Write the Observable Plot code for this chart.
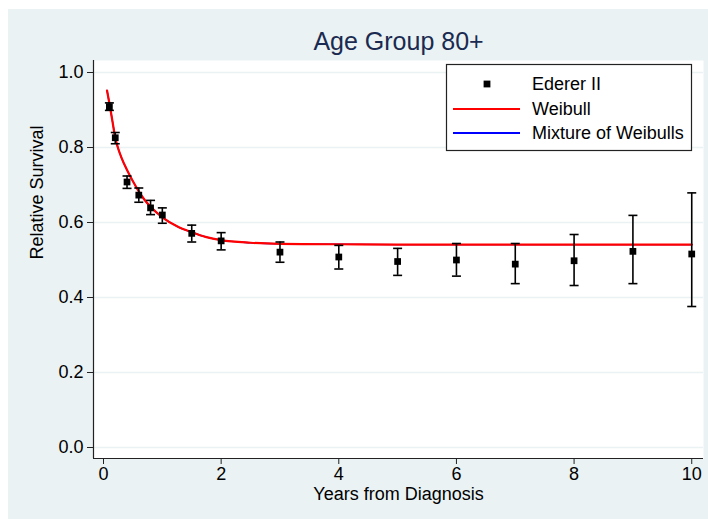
<!DOCTYPE html>
<html><head><meta charset="utf-8">
<script src="https://cdn.jsdelivr.net/npm/d3@7"></script>
<script src="https://cdn.jsdelivr.net/npm/@observablehq/plot@0.6"></script>
<style>
html,body{margin:0;padding:0;background:#fff;}
#wrap{position:relative;width:708px;height:519px;overflow:hidden;}
#panel{position:absolute;left:8px;top:9px;right:0;bottom:0;background:#EAF2F3;}
#chart{position:absolute;left:0;top:0;}
</style></head><body>
<div id="wrap"><div id="panel"></div><div id="chart"></div></div>
<script>
const titleText = "Age Group 80+";
const xLabel = "Years from Diagnosis";
const yLabel = "Relative Survival";
const legendLabels = ["Ederer II", "Weibull", "Mixture of Weibulls"];
const xTicks = [0, 2, 4, 6, 8, 10];
const yTicks = [0, 0.2, 0.4, 0.6, 0.8, 1.0];

// Ederer II estimates with 95% CI
const edererTime = [0.1, 0.2, 0.4, 0.6, 0.8, 1.0, 1.5, 2, 3, 4, 5, 6, 7, 8, 9, 10];
const edererRS   = [0.909, 0.826, 0.708, 0.673, 0.639, 0.620, 0.571, 0.551, 0.521, 0.508, 0.496, 0.500, 0.489, 0.498, 0.523, 0.516];
const edererLo   = [0.899, 0.810, 0.691, 0.654, 0.621, 0.598, 0.548, 0.527, 0.494, 0.476, 0.459, 0.457, 0.437, 0.432, 0.437, 0.376];
const edererHi   = [0.919, 0.840, 0.724, 0.692, 0.659, 0.639, 0.593, 0.573, 0.548, 0.539, 0.531, 0.544, 0.544, 0.568, 0.619, 0.679];

// Fitted curves
const weibullTime = [0.06, 0.10, 0.15, 0.20, 0.25, 0.30, 0.40, 0.50, 0.60, 0.70, 0.80, 1.00, 1.25, 1.50, 1.75, 2.00, 2.50, 3.00, 4.00, 5.00, 6.00, 8.00, 10.0];
const weibullRS   = [0.952, 0.918, 0.872, 0.826, 0.797, 0.775, 0.740, 0.710, 0.683, 0.660, 0.642, 0.614, 0.590, 0.574, 0.561, 0.553, 0.546, 0.543, 0.542, 0.541, 0.541, 0.541, 0.541];
const mixtureTime = [0.06, 0.10, 0.15, 0.20, 0.25, 0.30, 0.40, 0.50, 0.60, 0.70, 0.80, 1.00, 1.25, 1.50, 1.75, 2.00, 2.50, 3.00, 4.00, 5.00, 6.00, 8.00, 10.0];
const mixtureRS   = [0.952, 0.918, 0.872, 0.826, 0.797, 0.775, 0.740, 0.710, 0.683, 0.660, 0.642, 0.614, 0.590, 0.574, 0.561, 0.553, 0.546, 0.543, 0.542, 0.541, 0.541, 0.541, 0.541];

const ederer = edererTime.map((t, i) => ({t, rs: edererRS[i], lo: edererLo[i], hi: edererHi[i]}));
const weibull = weibullTime.map((t, i) => ({t, rs: weibullRS[i]}));
const mixture = mixtureTime.map((t, i) => ({t, rs: mixtureRS[i]}));

const FONT = '"Liberation Sans", Arial, Helvetica, sans-serif';
const BG = "#EAF2F3";
const xDomain = [-0.17, 10.2];
const yDomain = [-0.0293, 1.032];

const capSymbol = {
  draw(context, size) {
    const w = Math.sqrt(size / Math.PI);
    context.moveTo(-w, 0);
    context.lineTo(w, 0);
  }
};

const plot = Plot.plot({
  width: 708, height: 519,
  marginLeft: 93, marginRight: 5, marginTop: 60, marginBottom: 61,
  style: {background: "transparent", fontFamily: FONT, fontSize: "18px", color: "#000"},
  x: {domain: xDomain},
  y: {domain: yDomain},
  marks: [
    Plot.frame({fill: "white", stroke: "none"}),
    Plot.gridY(yTicks, {stroke: BG, strokeOpacity: 1, strokeWidth: 1.5}),
    Plot.axisY(yTicks, {tickFormat: d => d.toFixed(1), tickSize: 6, tickPadding: 4, fontSize: 18, label: null, stroke: "#222", fill: "#000"}),
    Plot.axisX(xTicks, {tickSize: 6, tickPadding: 3, fontSize: 18, label: null, stroke: "#222", fill: "#000"}),
    Plot.ruleX([xDomain[0]], {stroke: "#222", strokeWidth: 1.2}),
    Plot.ruleY([yDomain[0]], {stroke: "#222", strokeWidth: 1.2}),
    Plot.line(mixture, {x: "t", y: "rs", stroke: "blue", strokeWidth: 1.4, curve: "monotone-x"}),
    Plot.line(weibull, {x: "t", y: "rs", stroke: "red", strokeWidth: 2.2, curve: "monotone-x"}),
    Plot.ruleX(ederer, {x: "t", y1: "lo", y2: "hi", stroke: "#000", strokeWidth: 1.6}),
    Plot.dot(ederer, {x: "t", y: "lo", symbol: capSymbol, r: 4.5, stroke: "#000", strokeWidth: 1.6, fill: "none"}),
    Plot.dot(ederer, {x: "t", y: "hi", symbol: capSymbol, r: 4.5, stroke: "#000", strokeWidth: 1.6, fill: "none"}),
    Plot.dot(ederer, {x: "t", y: "rs", symbol: "square", r: 3.8, fill: "#000", stroke: "none"}),
    Plot.text([titleText], {text: d => d, frameAnchor: "top", dy: -19, fontSize: 25, fill: "#1a2a50", lineAnchor: "middle"}),
    Plot.text([xLabel], {text: d => d, frameAnchor: "bottom", dy: 36, fontSize: 18, fill: "#000", lineAnchor: "middle"}),
    Plot.text([yLabel], {text: d => d, frameAnchor: "left", dx: -56, rotate: -90, fontSize: 18, fill: "#000", lineAnchor: "middle"})
  ]
});

// Legend inside the plot (top right)
const svg = d3.select(plot);
const lg = svg.append("g").attr("font-family", FONT).attr("font-size", 18).attr("text-anchor", "start");
lg.append("rect").attr("x", 446.5).attr("y", 64.5).attr("width", 245).attr("height", 86)
  .attr("fill", "white").attr("stroke", "#222").attr("stroke-width", 1.2);
const rowsY = [84, 109, 133];
lg.append("rect").attr("x", 487 - 3.4).attr("y", rowsY[0] - 3.4).attr("width", 6.8).attr("height", 6.8).attr("fill", "#000");
lg.append("line").attr("x1", 453).attr("x2", 520).attr("y1", rowsY[1]).attr("y2", rowsY[1]).attr("stroke", "red").attr("stroke-width", 2.2);
lg.append("line").attr("x1", 453).attr("x2", 520).attr("y1", rowsY[2]).attr("y2", rowsY[2]).attr("stroke", "blue").attr("stroke-width", 2.2);
legendLabels.forEach((lab, i) => {
  lg.append("text").attr("x", 532).attr("y", rowsY[i]).attr("dy", "0.35em").attr("fill", "#000").attr("text-anchor", "start").text(lab);
});

document.getElementById("chart").appendChild(plot);
</script>
</body></html>
